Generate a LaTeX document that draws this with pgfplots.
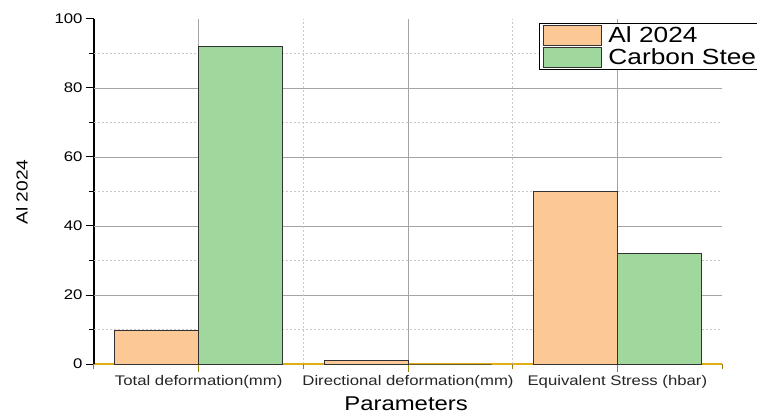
\documentclass[border=0pt]{standalone}
\usepackage{fontspec}
\setmainfont{Liberation Sans}[FakeStretch=1.2]
\usepackage{pgfplots}
\pgfplotsset{compat=1.18}

\definecolor{alfill}{RGB}{251,200,150}
\definecolor{csfill}{RGB}{159,215,156}
\definecolor{barline}{RGB}{50,50,50}
\definecolor{gridmaj}{RGB}{165,165,165}
\definecolor{gridmin}{RGB}{200,200,200}
\definecolor{xline}{RGB}{225,175,20}

\tikzset{
  gmaj/.style={gridmaj, line width=0.9bp},
  gmin/.style={gridmin, line width=0.8bp, dash pattern=on 2bp off 2bp},
  ytk/.style={draw=black, line width=1bp},
  xtk/.style={draw=xline!70!black, line width=1bp},
}
\pgfplotsset{
  boxlegend/.style={legend image code/.code={\draw[##1,line width=0.8bp] (0bp,-10bp) rectangle (58bp,10bp);}},
}

\begin{document}
\begin{tikzpicture}
\begin{axis}[
  name=ax,
  width=628bp, height=345bp, scale only axis,
  xmin=-0.5, xmax=2.5, ymin=0, ymax=100,
  clip=false,
  ybar,
  xtick={0,1,2},
  xticklabels={Total deformation(mm),Directional deformation(mm),Equivalent Stress (hbar)},
  minor xtick={-0.5,0.5,1.5,2.5},
  ytick={0,20,...,100},
  minor ytick={10,30,...,90},
  axis x line*=bottom, axis y line*=left,
  x axis line style={xline, line width=1.3bp, -},
  y axis line style={black, line width=2.2bp, -},
  tick align=outside,
  major tick length=8bp, minor tick length=5bp,
  ytick style={draw=black, line width=1bp},
  xtick style={draw=xline!70!black, line width=1bp},
  /pgf/number format/assume math mode=true,
  yticklabel style={font=\fontsize{14}{16}\selectfont, black},
  xticklabel style={font=\fontsize{14}{16}\selectfont, black!85},
  xlabel={Parameters},
  ylabel={Al 2024},
  xlabel style={at={(rel axis cs:0.497,0)}, anchor=center, yshift=-40bp, font=\fontsize{20}{22}\selectfont},
  ylabel style={at={(rel axis cs:-0.1146,0.4986)}, anchor=center, font=\fontsize{16}{18}\selectfont},
  legend style={at={(rel axis cs:0.709,0.988)}, anchor=north west,
    draw=black, line width=0.8bp, font=\fontsize{22}{24}\selectfont,
    inner xsep=3bp, inner ysep=1bp, row sep=1bp, column sep=5bp,
    legend cell align=left},
  boxlegend,
]
% grid lines behind the bars (none along the top edge)
\pgfplotsinvokeforeach{10,30,50,70,90}{\draw[gmin] (axis cs:-0.5,#1) -- (axis cs:2.5,#1);}
\pgfplotsinvokeforeach{20,40,60,80}{\draw[gmaj] (axis cs:-0.5,#1) -- (axis cs:2.5,#1);}
\pgfplotsinvokeforeach{0.5,1.5}{\draw[gmin] (axis cs:#1,0) -- (axis cs:#1,100);}
\pgfplotsinvokeforeach{0,1,2}{\draw[gmaj] (axis cs:#1,0) -- (axis cs:#1,100);}
% tick marks
\pgfplotsinvokeforeach{0,20,40,60,80,100}{\draw[ytk] (axis cs:-0.5,#1) -- ++(-8bp,0pt);}
\pgfplotsinvokeforeach{10,30,50,70,90}{\draw[ytk] (axis cs:-0.5,#1) -- ++(-5bp,0pt);}
\pgfplotsinvokeforeach{0,1,2}{\draw[xtk] (axis cs:#1,0) -- ++(0pt,-6bp);}
\pgfplotsinvokeforeach{-0.5,0.5,1.5,2.5}{\draw[xtk] (axis cs:#1,0) -- ++(0pt,-4bp);}
\addplot[fill=alfill, draw=barline, line width=0.9bp, bar width=0.4, bar shift=-0.2, boxlegend]
  coordinates {(0,9.6) (1,1.0) (2,49.9)};
\addplot[fill=csfill, draw=barline, line width=0.9bp, bar width=0.4, bar shift=0.2, boxlegend]
  coordinates {(0,91.9) (1,0) (2,31.9)};
\legend{Al 2024,Carbon Steel}
\end{axis}
\pgfresetboundingbox
\path[use as bounding box] ([xshift=-94bp,yshift=-50bp]ax.south west) rectangle ([xshift=35bp,yshift=19bp]ax.north east);
\end{tikzpicture}
\end{document}
